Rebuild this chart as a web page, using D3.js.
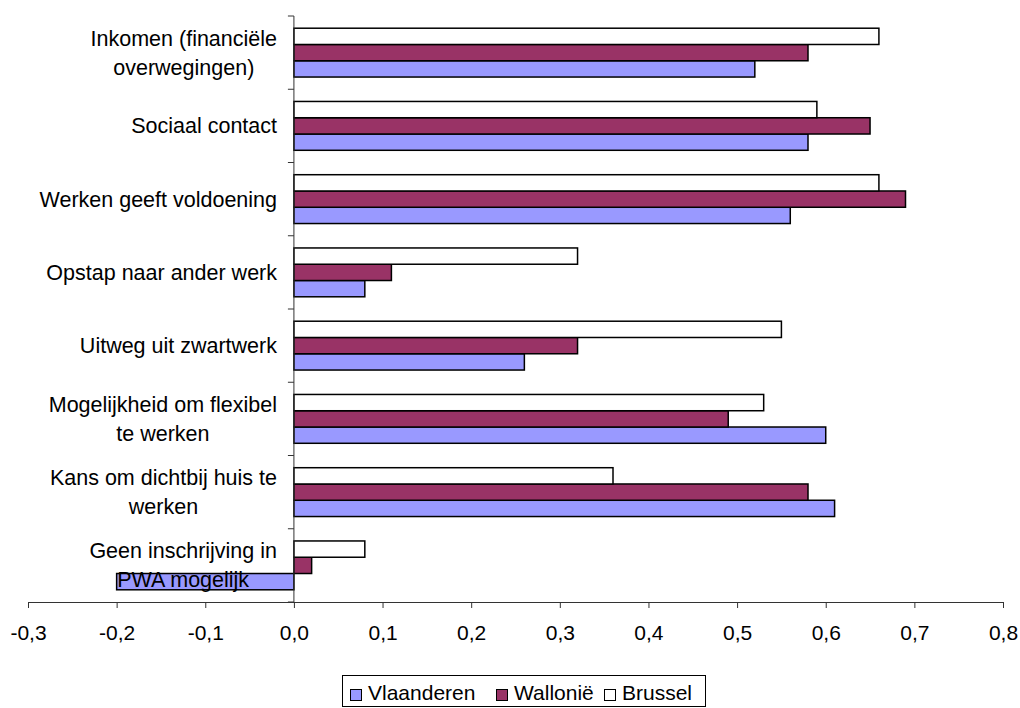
<!DOCTYPE html>
<html>
<head>
<meta charset="utf-8">
<script src="https://cdn.jsdelivr.net/npm/d3@7"></script>
<style>
  html, body { margin: 0; padding: 0; background: #fff; }
  svg { display: block; font-family: "Liberation Sans", Arial, sans-serif; }
</style>
</head>
<body>
<svg id="chart" width="1020" height="708"></svg>
<script>
// Motives, top to bottom; "\n" marks a line break in the label
const categories = [
  "Inkomen (financiële\noverwegingen)",
  "Sociaal contact",
  "Werken geeft voldoening",
  "Opstap naar ander werk",
  "Uitweg uit zwartwerk",
  "Mogelijkheid om flexibel\nte werken",
  "Kans om dichtbij huis te\nwerken",
  "Geen inschrijving in\nPWA mogelijk"
];
const seriesNames = ["Vlaanderen", "Wallonië", "Brussel"];
const vlaanderen = [0.52, 0.58, 0.56, 0.08, 0.26, 0.60, 0.61, -0.20];
const wallonie   = [0.58, 0.65, 0.69, 0.11, 0.32, 0.49, 0.58, 0.02];
const brussel    = [0.66, 0.59, 0.66, 0.32, 0.55, 0.53, 0.36, 0.08];
const xTicks = [-0.3, -0.2, -0.1, 0.0, 0.1, 0.2, 0.3, 0.4, 0.5, 0.6, 0.7, 0.8];
const colors = { "Vlaanderen": "#9999ff", "Wallonië": "#993366", "Brussel": "#ffffff" };

const seriesValues = { "Vlaanderen": vlaanderen, "Wallonië": wallonie, "Brussel": brussel };

const svg = d3.select("#chart");
const plot = { left: 28, right: 1003, top: 16, bottom: 602 };

const x = d3.scaleLinear().domain([-0.3, 0.8]).range([plot.left, plot.right]);
const y = d3.scaleBand().domain(categories).range([plot.top, plot.bottom]).padding(0);
// Within each category the bars run Brussel, Wallonië, Vlaanderen from top down
const inner = d3.scaleBand()
  .domain(["Brussel", "Wallonië", "Vlaanderen"])
  .range([0, y.bandwidth()])
  .paddingInner(0)
  .paddingOuter(0.75);

const fmt = v => d3.format(".1f")(v).replace(".", ",").replace("−", "-");

// Bars
const rows = [];
categories.forEach((c, i) => {
  seriesNames.forEach(s => rows.push({ cat: c, series: s, value: seriesValues[s][i] }));
});
svg.append("g").selectAll("rect").data(rows).join("rect")
  .attr("x", d => x(Math.min(0, d.value)))
  .attr("y", d => y(d.cat) + inner(d.series))
  .attr("width", d => Math.abs(x(d.value) - x(0)))
  .attr("height", inner.bandwidth())
  .attr("fill", d => colors[d.series])
  .attr("stroke", "#000")
  .attr("stroke-width", 1.5);

// X axis
const xAxis = svg.append("g")
  .attr("transform", `translate(0,${plot.bottom})`)
  .call(d3.axisBottom(x).tickValues(xTicks).tickFormat(fmt).tickSize(6).tickSizeOuter(0));
xAxis.select(".domain").attr("stroke", "#333");
xAxis.selectAll(".tick line").attr("stroke", "#333");
xAxis.selectAll("text")
  .attr("y", 38).attr("dy", 0)
  .attr("font-size", 21).attr("fill", "#000")
  .attr("font-family", "'Liberation Sans', Arial, sans-serif");

// Y axis along zero with ticks at category boundaries
const yAxisG = svg.append("g");
yAxisG.append("line")
  .attr("x1", x(0)).attr("x2", x(0))
  .attr("y1", plot.top).attr("y2", plot.bottom)
  .attr("stroke", "#333");
const boundaries = categories.map(c => y(c)).concat([plot.bottom]);
yAxisG.selectAll(".yt").data(boundaries).join("line")
  .attr("class", "yt")
  .attr("x1", x(0) - 6).attr("x2", x(0))
  .attr("y1", d => d).attr("y2", d => d)
  .attr("stroke", "#333");

// Category labels: block right-aligned, lines centred within block
const labelRight = 277;
const lineGap = 29;
const labels = svg.append("g").attr("font-size", 21.5).attr("fill", "#000");
categories.forEach(c => {
  const lines = c.split("\n");
  const t = labels.append("text").attr("text-anchor", "middle");
  const cy = y(c) + y.bandwidth() / 2;
  lines.forEach((ln, j) => {
    t.append("tspan").text(ln)
      .attr("y", cy + (j - (lines.length - 1) / 2) * lineGap)
      .attr("dy", "0.35em");
  });
  let maxW = 0;
  t.selectAll("tspan").each(function () { maxW = Math.max(maxW, this.getComputedTextLength()); });
  t.selectAll("tspan").attr("x", labelRight - maxW / 2);
});

// Legend
const legend = svg.append("g");
legend.append("rect")
  .attr("x", 342.5).attr("y", 675.5).attr("width", 363).attr("height", 31)
  .attr("fill", "#fff").attr("stroke", "#000").attr("stroke-width", 1);
const legendX = { "Vlaanderen": 350, "Wallonië": 496, "Brussel": 604 };
seriesNames.forEach(s => {
  legend.append("rect")
    .attr("x", legendX[s] + 0.5).attr("y", 689.5).attr("width", 11).attr("height", 11)
    .attr("fill", colors[s]).attr("stroke", "#000").attr("stroke-width", 1);
  legend.append("text")
    .attr("x", legendX[s] + 18).attr("y", 700)
    .attr("font-size", 21).attr("fill", "#000").text(s);
});
</script>
</body>
</html>
